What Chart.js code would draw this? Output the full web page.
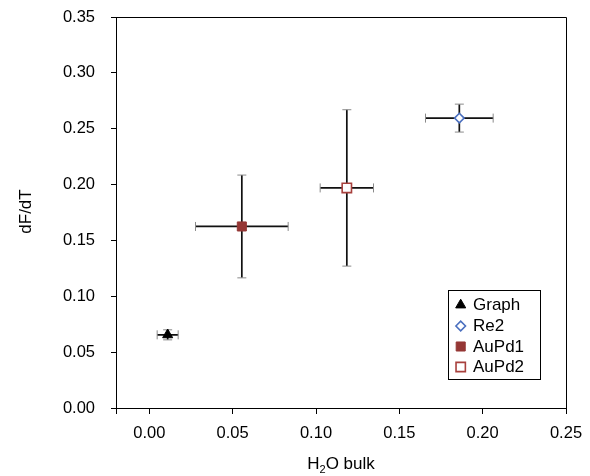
<!DOCTYPE html>
<html>
<head>
<meta charset="utf-8">
<script src="https://cdn.jsdelivr.net/npm/chart.js@4"></script>
<style>
  html, body { margin: 0; padding: 0; background: #fff; }
  #wrap { position: relative; width: 590px; height: 476px; }
</style>
</head>
<body>
<div id="wrap"><canvas id="c" width="590" height="476"></canvas></div>
<script>
// Series, values and error half-widths
const seriesNames = ['Graph', 'Re2', 'AuPd1', 'AuPd2'];
const h2oBulk = [0.011, 0.186, 0.0555, 0.1185];
const dFdT = [0.0655, 0.2595, 0.1625, 0.197];
const h2oErr = [0.0063, 0.0203, 0.0278, 0.016];
const dFdTErr = [0.0045, 0.0125, 0.046, 0.070];

// Axis ticks
const xTickValues = [-0.02, 0.00, 0.05, 0.10, 0.15, 0.20, 0.25];
const xTickLabels = ['', '0.00', '0.05', '0.10', '0.15', '0.20', '0.25'];
const yTickValues = [0.00, 0.05, 0.10, 0.15, 0.20, 0.25, 0.30, 0.35];
const yTickLabels = ['0.00', '0.05', '0.10', '0.15', '0.20', '0.25', '0.30', '0.35'];

const FONT = '"Liberation Sans", Arial, sans-serif';

const styles = [
  { pointStyle: 'triangle', radius: 5.8, bg: '#000000', border: '#000000', bw: 1 },
  { pointStyle: 'rectRot', radius: 4.8, bg: '#ffffff', border: '#4a6fbf', bw: 1.6 },
  { pointStyle: 'rect', radius: 6.4, bg: '#953735', border: '#953735', bw: 1 },
  { pointStyle: 'rect', radius: 6.6, bg: '#ffffff', border: '#a8403d', bw: 1.6 }
];

const datasets = seriesNames.map((name, i) => ({
  label: name,
  data: [{ x: h2oBulk[i], y: dFdT[i] }],
  pointStyle: styles[i].pointStyle,
  pointRadius: styles[i].radius,
  pointHoverRadius: styles[i].radius,
  backgroundColor: styles[i].bg,
  borderColor: styles[i].border,
  pointBorderWidth: styles[i].bw,
  showLine: false
}));

// Horizontal and vertical error bars, drawn under the markers
const errorBars = {
  id: 'errorBars',
  beforeDatasetsDraw(chart) {
    const ctx = chart.ctx;
    const xs = chart.scales.x, ys = chart.scales.y;
    const cap = 4.5;
    ctx.save();
    seriesNames.forEach((_, i) => {
      const cx = xs.getPixelForValue(h2oBulk[i]);
      const cy = ys.getPixelForValue(dFdT[i]);
      const x0 = xs.getPixelForValue(h2oBulk[i] - h2oErr[i]);
      const x1 = xs.getPixelForValue(h2oBulk[i] + h2oErr[i]);
      const y0 = ys.getPixelForValue(dFdT[i] - dFdTErr[i]);
      const y1 = ys.getPixelForValue(dFdT[i] + dFdTErr[i]);
      ctx.strokeStyle = '#111';
      ctx.lineWidth = 1.7;
      ctx.beginPath();
      ctx.moveTo(x0, cy); ctx.lineTo(x1, cy);
      ctx.moveTo(cx, y0); ctx.lineTo(cx, y1);
      ctx.stroke();
      ctx.strokeStyle = '#8a8a8a';
      ctx.lineWidth = 1;
      ctx.beginPath();
      ctx.moveTo(x0, cy - cap); ctx.lineTo(x0, cy + cap);
      ctx.moveTo(x1, cy - cap); ctx.lineTo(x1, cy + cap);
      ctx.moveTo(cx - cap, y0); ctx.lineTo(cx + cap, y0);
      ctx.moveTo(cx - cap, y1); ctx.lineTo(cx + cap, y1);
      ctx.stroke();
    });
    ctx.restore();
  }
};

// Plot frame, axis titles and the boxed legend
const decorations = {
  id: 'decorations',
  afterDraw(chart) {
    const ctx = chart.ctx;
    const a = chart.chartArea;
    ctx.save();
    ctx.strokeStyle = '#000';
    ctx.lineWidth = 1;
    ctx.beginPath();
    ctx.moveTo(Math.round(a.left) + 0.5, Math.round(a.top) + 0.5);
    ctx.lineTo(Math.round(a.right) + 0.5, Math.round(a.top) + 0.5);
    ctx.lineTo(Math.round(a.right) + 0.5, Math.round(a.bottom) + 0.5);
    ctx.stroke();

    // y title
    ctx.fillStyle = '#000';
    ctx.font = '17px ' + FONT;
    ctx.textAlign = 'center';
    ctx.textBaseline = 'middle';
    ctx.save();
    ctx.translate(26.5, 211.5);
    ctx.rotate(-Math.PI / 2);
    ctx.fillText('dF/dT', 0, 0);
    ctx.restore();

    // x title with subscript
    const big = '17px ' + FONT, small = '11px ' + FONT;
    ctx.textBaseline = 'alphabetic';
    ctx.textAlign = 'left';
    ctx.font = big;
    const wH = ctx.measureText('H').width;
    const wRest = ctx.measureText('O bulk').width;
    ctx.font = small;
    const w2 = ctx.measureText('2').width;
    const total = wH + w2 + wRest;
    let tx = (a.left + a.right) / 2 - total / 2;
    const base = 469;
    ctx.font = big; ctx.fillText('H', tx, base); tx += wH;
    ctx.font = small; ctx.fillText('2', tx, base + 4); tx += w2;
    ctx.font = big; ctx.fillText('O bulk', tx, base);

    // legend
    const lx = 448.5, ly = 290.5, lw = 92, lh = 89;
    ctx.fillStyle = '#fff';
    ctx.fillRect(lx, ly, lw, lh);
    ctx.strokeStyle = '#000';
    ctx.lineWidth = 1;
    ctx.strokeRect(lx, ly, lw, lh);
    const rowY = [305, 326, 346.5, 367];
    seriesNames.forEach((name, i) => {
      const s = styles[i];
      ctx.fillStyle = s.bg;
      ctx.strokeStyle = s.border;
      ctx.lineWidth = s.bw;
      const mx = 460.7, my = rowY[i];
      if (Chart.helpers && Chart.helpers.drawPoint) {
        Chart.helpers.drawPoint(ctx, { pointStyle: s.pointStyle, radius: s.radius, rotation: 0, borderWidth: s.bw }, mx, my);
      }
      ctx.fillStyle = '#000';
      ctx.font = '17px ' + FONT;
      ctx.textAlign = 'left';
      ctx.textBaseline = 'middle';
      ctx.fillText(name, 473, my + 0.5);
    });
    ctx.restore();
  }
};

new Chart(document.getElementById('c'), {
  type: 'scatter',
  data: { datasets },
  options: {
    responsive: false,
    animation: false,
    events: [],
    layout: { padding: { left: 0, top: 17, right: 24, bottom: 0 } },
    plugins: { legend: { display: false }, tooltip: { enabled: false } },
    scales: {
      x: {
        type: 'linear',
        min: -0.02,
        max: 0.25,
        afterFit(scale) {
          scale.height = 68;
          scale.paddingLeft = 0; scale.paddingRight = 0;
        },
        afterBuildTicks(scale) { scale.ticks = xTickValues.map(v => ({ value: v })); },
        ticks: {
          autoSkip: false,
          maxRotation: 0,
          padding: 10,
          color: '#000',
          font: { family: FONT, size: 16.5 },
          callback: (v, i) => xTickLabels[i]
        },
        grid: { drawOnChartArea: false, drawTicks: true, tickLength: 6, color: '#000', tickColor: '#000' },
        border: { display: true, color: '#000', width: 1 }
      },
      y: {
        type: 'linear',
        min: 0,
        max: 0.35,
        afterFit(scale) {
          scale.width = 116;
          scale.paddingTop = 0; scale.paddingBottom = 0;
        },
        afterBuildTicks(scale) { scale.ticks = yTickValues.map(v => ({ value: v })); },
        ticks: {
          autoSkip: false,
          padding: 16,
          color: '#000',
          font: { family: FONT, size: 16.5 },
          callback: (v, i) => yTickLabels[i]
        },
        grid: { drawOnChartArea: false, drawTicks: true, tickLength: 5, color: '#000', tickColor: '#000' },
        border: { display: true, color: '#000', width: 1 }
      }
    }
  },
  plugins: [errorBars, decorations]
});
</script>
</body>
</html>
